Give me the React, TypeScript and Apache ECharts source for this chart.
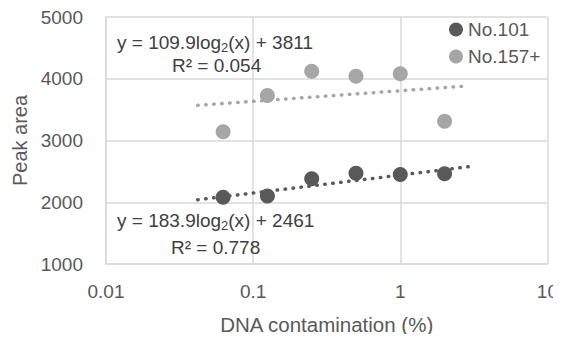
import React, { useEffect, useRef } from "react";
import * as echarts from "echarts";

const xValues = [0.0625, 0.125, 0.25, 0.5, 1, 2];
const no101 = [2080, 2100, 2380, 2470, 2450, 2460];
const no157 = [3140, 3730, 4120, 4040, 4080, 3310];
const trendX = [0.042, 2.9];
const trend101 = [2040, 2575];
const trend157 = [3570, 3885];
const yTicks = { min: 1000, max: 5000, interval: 1000 };
const xRange = { min: 0.01, max: 10 };

const DARK = "#595959";
const LIGHT = "#a6a6a6";
const TEXT = "#595959";
const FONT = "Liberation Sans";

export default function App() {
  const ref = useRef<HTMLDivElement>(null);
  useEffect(() => {
    if (!ref.current) return;
    const chart = echarts.init(ref.current, undefined, { renderer: "svg" });
    const eqText = (x: number, y: number, text: string) => ({
      type: "text",
      x,
      y,
      z: 100,
      style: {
        text,
        fill: "#404040",
        fontSize: 19,
        lineHeight: 24,
        fontFamily: FONT,
        verticalAlign: "middle",
        rich: {
          sub: { fontSize: 13, lineHeight: 12, verticalAlign: "bottom", fill: "#404040", fontFamily: FONT },
          n: { fontSize: 19, lineHeight: 24, fill: "#404040", fontFamily: FONT },
        },
      },
    });
    const dotted = { width: 3.5, type: [0.5, 7.5], cap: "round" };
    chart.setOption({
      animation: false,
      backgroundColor: "#ffffff",
      textStyle: { fontFamily: FONT },
      grid: { left: 106, right: 9, top: 17, bottom: 78 },
      legend: {
        orient: "vertical",
        left: 444,
        top: 15,
        itemWidth: 14,
        itemHeight: 14,
        itemGap: 8,
        icon: "circle",
        textStyle: { fontSize: 19, color: TEXT, fontFamily: FONT, padding: [0, 0, 0, 0] },
        data: ["No.101", "No.157+"],
      },
      xAxis: {
        type: "log",
        logBase: 10,
        min: xRange.min,
        max: xRange.max,
        name: "DNA contamination (%)",
        nameLocation: "middle",
        nameGap: 50,
        nameTextStyle: { fontSize: 20.5, color: TEXT, fontFamily: FONT },
        axisLine: { show: true, lineStyle: { color: "#d9d9d9", width: 1.5 } },
        axisTick: { show: false },
        axisLabel: { fontSize: 19, color: TEXT, margin: 18, fontFamily: FONT },
        splitLine: { show: true, lineStyle: { color: "#d9d9d9", width: 1.5 } },
        minorTick: { show: false },
      },
      yAxis: {
        type: "value",
        min: yTicks.min,
        max: yTicks.max,
        interval: yTicks.interval,
        name: "Peak area",
        nameLocation: "middle",
        nameRotate: 90,
        nameGap: 76,
        nameTextStyle: { fontSize: 20, color: TEXT, fontFamily: FONT },
        axisLine: { show: true, lineStyle: { color: "#d9d9d9", width: 1.5 } },
        axisTick: { show: false },
        axisLabel: { fontSize: 19, color: TEXT, margin: 23, fontFamily: FONT, formatter: (v: number) => String(v) },
        splitLine: { show: true, lineStyle: { color: "#d9d9d9", width: 1.5 } },
      },
      series: [
        {
          name: "Trend No.101",
          type: "line",
          data: trendX.map((x, i) => [x, trend101[i]]),
          symbol: "none",
          lineStyle: { color: DARK, ...dotted },
          z: 1,
          silent: true,
        },
        {
          name: "Trend No.157+",
          type: "line",
          data: trendX.map((x, i) => [x, trend157[i]]),
          symbol: "none",
          lineStyle: { color: LIGHT, ...dotted },
          z: 1,
          silent: true,
        },
        {
          name: "No.101",
          type: "scatter",
          data: xValues.map((x, i) => [x, no101[i]]),
          symbolSize: 15,
          itemStyle: { color: DARK, opacity: 1 },
          z: 3,
        },
        {
          name: "No.157+",
          type: "scatter",
          data: xValues.map((x, i) => [x, no157[i]]),
          symbolSize: 15,
          itemStyle: { color: LIGHT, opacity: 1 },
          z: 3,
        },
      ],
      graphic: [
        eqText(117, 42, "{n|y = 109.9log}{sub|2}{n|(x) + 3811}"),
        eqText(172, 65, "{n|R² = 0.054}"),
        eqText(117, 220, "{n|y = 183.9log}{sub|2}{n|(x) + 2461}"),
        eqText(171, 247, "{n|R² = 0.778}"),
      ],
    });
    return () => chart.dispose();
  }, []);
  return <div ref={ref} style={{ width: 561, height: 342, margin: -8 }} />;
}
